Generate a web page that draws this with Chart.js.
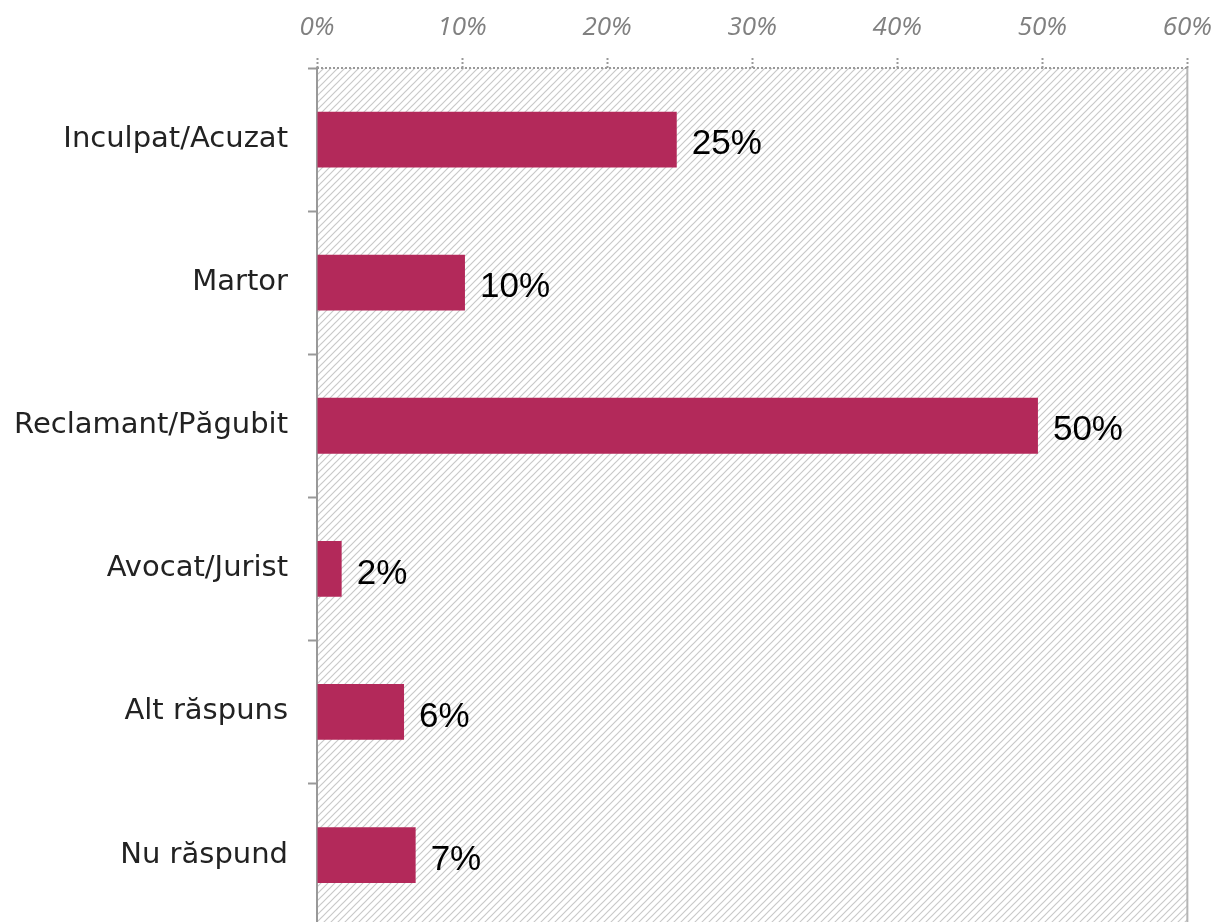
<!DOCTYPE html>
<html>
<head>
<meta charset="utf-8">
<script src="https://cdn.jsdelivr.net/npm/chart.js@4"></script>
<style>
  html, body { margin: 0; padding: 0; background: #fff; overflow: hidden; }
  #roleChart { display: block; }
</style>
</head>
<body>
<canvas id="roleChart" width="1227" height="964"></canvas>
<script>
// Data
const categories = ['Inculpat/Acuzat', 'Martor', 'Reclamant/Păgubit', 'Avocat/Jurist', 'Alt răspuns', 'Nu răspund'];
const shares = [24.8, 10.2, 49.7, 1.7, 6.0, 6.8];
const shareLabels = ['25%', '10%', '50%', '2%', '6%', '7%'];
const tickValues = [0, 10, 20, 30, 40, 50, 60];

// diagonal hatch for the plot background
function makeHatch() {
    const c = document.createElement('canvas');
    c.width = 7; c.height = 7;
    const g = c.getContext('2d');
    g.strokeStyle = '#c9c9c9';
    g.lineWidth = 1.2;
    g.beginPath();
    g.moveTo(0, 7); g.lineTo(7, 0);
    g.moveTo(-1, 1); g.lineTo(1, -1);
    g.moveTo(6, 8); g.lineTo(8, 6);
    g.stroke();
    return g.createPattern(c, 'repeat');
}

const hatchBackground = {
    id: 'hatchBackground',
    beforeDraw(chart) {
        const { ctx, chartArea } = chart;
        ctx.save();
        ctx.fillStyle = makeHatch();
        ctx.fillRect(chartArea.left, chartArea.top, chartArea.right - chartArea.left, chartArea.bottom - chartArea.top);
        ctx.restore();
    }
};

// dotted top frame line and solid right frame line
const frameLines = {
    id: 'frameLines',
    afterDraw(chart) {
        const { ctx, chartArea } = chart;
        const xRight = chart.scales.x.getPixelForValue(60);
        ctx.save();
        ctx.strokeStyle = '#999';
        ctx.lineWidth = 2;
        ctx.setLineDash([2, 2]);
        ctx.beginPath();
        ctx.moveTo(chartArea.left, chartArea.top);
        ctx.lineTo(xRight, chartArea.top);
        ctx.stroke();
        ctx.setLineDash([]);
        ctx.strokeStyle = '#b5b5b5';
        ctx.beginPath();
        ctx.moveTo(xRight, chartArea.top);
        ctx.lineTo(xRight, chartArea.bottom);
        ctx.stroke();
        ctx.restore();
    }
};

const valueLabels = {
    id: 'valueLabels',
    afterDatasetsDraw(chart) {
        const { ctx } = chart;
        const meta = chart.getDatasetMeta(0);
        ctx.save();
        ctx.font = '35px "Liberation Sans", Arial, sans-serif';
        ctx.fillStyle = '#000';
        ctx.textAlign = 'left';
        ctx.textBaseline = 'middle';
        meta.data.forEach((bar, i) => {
            ctx.fillText(shareLabels[i], bar.x + 15, bar.y + 5);
        });
        ctx.restore();
    }
};

new Chart(document.getElementById('roleChart'), {
    type: 'bar',
    data: {
        labels: categories,
        datasets: [{
            data: shares,
            backgroundColor: '#b3295a',
            borderWidth: 0,
            barPercentage: 0.78,
            categoryPercentage: 0.5
        }]
    },
    options: {
        indexAxis: 'y',
        responsive: false,
        animation: false,
        layout: { padding: { top: 0, right: 33, bottom: 0, left: 0 } },
        plugins: {
            legend: { display: false },
            tooltip: { enabled: false }
        },
        scales: {
            x: {
                position: 'top',
                min: 0,
                max: 60,
                afterBuildTicks: (scale) => { scale.ticks = tickValues.map(v => ({ value: v })); },
                afterFit: (scale) => { scale.height = 68; },
                ticks: {
                    callback: (v) => v + '%',
                    color: '#808080',
                    font: { family: '"Open Sans", sans-serif', size: 26, style: 'italic' },
                    padding: 15,
                    maxRotation: 0
                },
                grid: {
                    drawOnChartArea: false,
                    tickLength: 10,
                    tickColor: '#999',
                    tickBorderDash: [2, 2],
                    tickWidth: 2
                },
                border: { display: false }
            },
            y: {
                afterFit: (scale) => { scale.width = 317; },
                ticks: {
                    color: '#222',
                    font: { family: '"DejaVu Sans", sans-serif', size: 29 },
                    padding: 20
                },
                grid: {
                    drawOnChartArea: false,
                    offset: true,
                    tickLength: 9,
                    tickColor: '#999',
                    tickWidth: 2
                },
                border: { display: true, color: '#999', width: 2 }
            }
        }
    },
    plugins: [hatchBackground, frameLines, valueLabels]
});
</script>
</body>
</html>
